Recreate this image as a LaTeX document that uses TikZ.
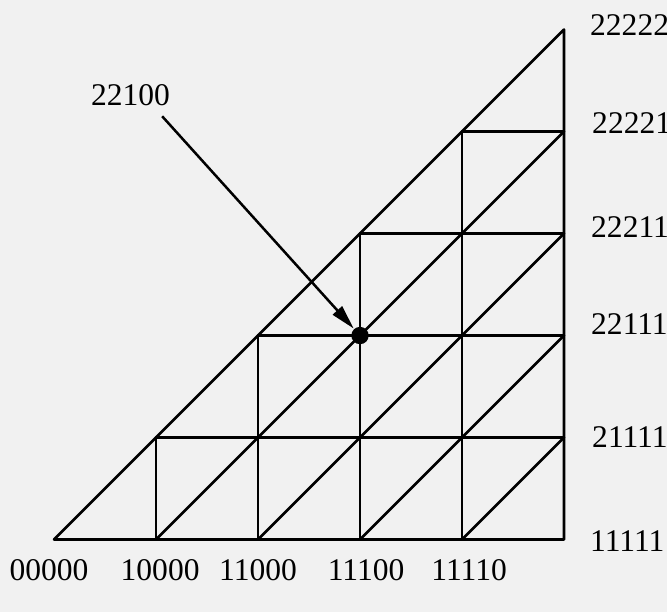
\documentclass[tikz,border=0pt]{standalone}
\usepackage{fontspec}
\setmainfont{Liberation Serif}
\usepackage{tikz}
\usetikzlibrary{arrows.meta}
\definecolor{scanbg}{RGB}{241,241,241}

\begin{document}
\begin{tikzpicture}[
  edge/.style={line width=0.75pt, line cap=round, line join=round},
  num/.style={font=\fontsize{8.8}{10}\selectfont, inner sep=0pt},
  vertex/.style={circle, fill=black, inner sep=0pt, minimum size=0.17cm},
  pointer/.style={line width=0.7pt, -{Triangle[length=0.24cm,width=0.12cm]}},
]
  \fill[scanbg] (-0.53,-0.71) rectangle (6.01,5.29);
  \useasboundingbox (-0.53,-0.71) rectangle (6.01,5.29);

  % outer triangle
  \draw[edge] (0,0) -- (5,0) -- (5,5) -- cycle;

  % horizontal rows
  \draw[edge] (1,1) -- (5,1);
  \draw[edge] (2,2) -- (5,2);
  \draw[edge] (3,3) -- (5,3);
  \draw[edge] (4,4) -- (5,4);

  % vertical columns
  \draw[edge] (1,0) -- (1,1);
  \draw[edge] (2,0) -- (2,2);
  \draw[edge] (3,0) -- (3,3);
  \draw[edge] (4,0) -- (4,4);

  % diagonals
  \draw[edge] (1,0) -- (5,4);
  \draw[edge] (2,0) -- (5,3);
  \draw[edge] (3,0) -- (5,2);
  \draw[edge] (4,0) -- (5,1);

  % bottom labels
  \node[num] (b0) at (-0.05,-0.30) {00000};
  \node[num] (b1) at (1.04,-0.30)  {10000};
  \node[num] (b2) at (2.00,-0.30)  {11000};
  \node[num] (b3) at (3.06,-0.30)  {11100};
  \node[num] (b4) at (4.07,-0.30)  {11110};

  % right labels
  \node[num, anchor=west] (r0) at (5.25,-0.02) {11111};
  \node[num, anchor=west] (r1) at (5.27,1.00)  {21111};
  \node[num, anchor=west] (r2) at (5.26,2.11)  {22111};
  \node[num, anchor=west] (r3) at (5.26,3.06)  {22211};
  \node[num, anchor=west] (r4) at (5.27,4.08)  {22221};
  \node[num, anchor=west] (r5) at (5.25,5.04)  {22222};

  % marked point
  \node[vertex] (dot) at (3,2) {};
  \node[num] (lbl22100) at (0.75,4.36) {22100};
  \coordinate (tail) at (1.06,4.15);
  \draw[pointer] (tail) -- (dot);
\end{tikzpicture}
\end{document}
